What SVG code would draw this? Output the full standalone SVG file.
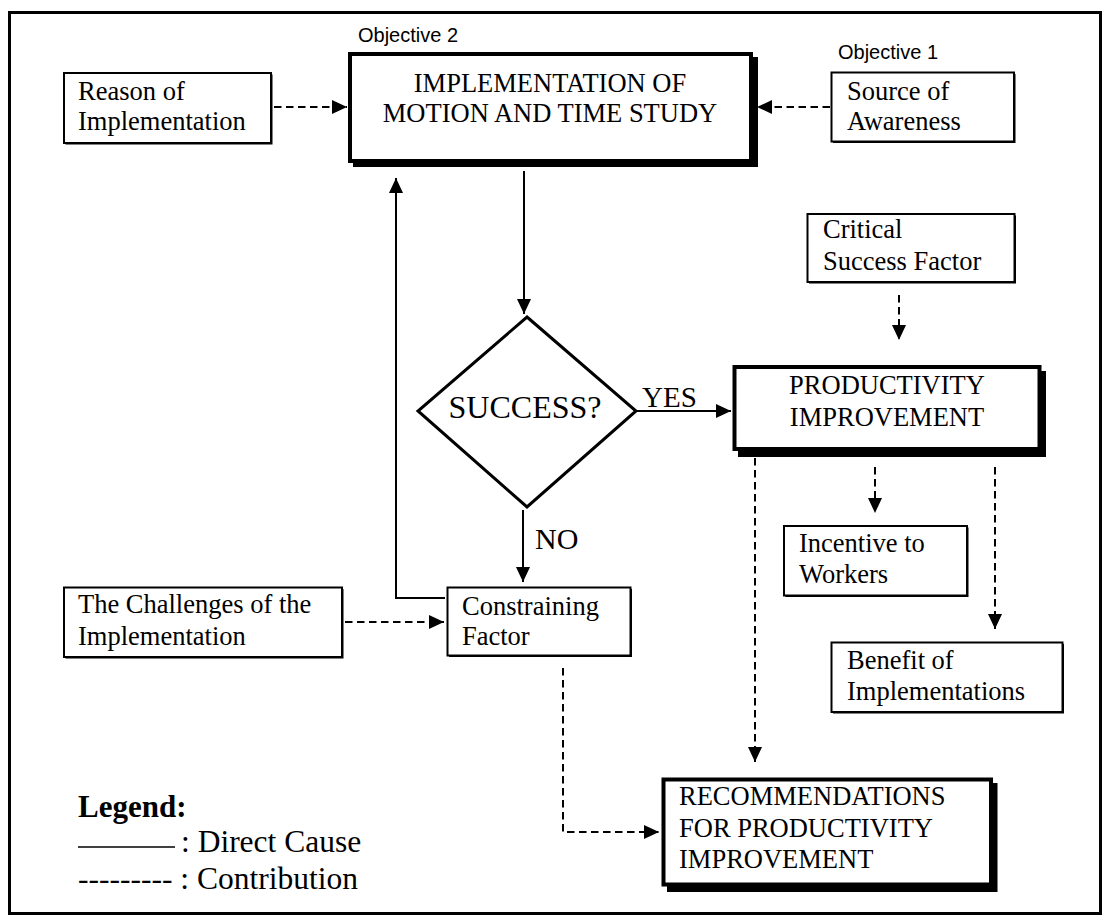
<svg xmlns="http://www.w3.org/2000/svg" width="1109" height="923" viewBox="0 0 1109 923">
<style>
  .t { font-family: "Liberation Serif", "Times New Roman", serif; font-size: 26.5px; fill: #000; }
  .c { text-anchor: middle; }
  .obj { font-family: "Liberation Sans", Arial, sans-serif; font-size: 20px; fill: #000; }
  .box { fill: #fff; stroke: #000; stroke-width: 2; }
  .sh { fill: #000; }
  .tbox { fill: #fff; stroke: #000; stroke-width: 4; }
  .solid { fill: none; stroke: #000; stroke-width: 2; }
  .dash { fill: none; stroke: #000; stroke-width: 2; stroke-dasharray: 7.5 4.5; }
  .arr { marker-end: url(#ah); }
  .lg { font-size: 31.5px; }
</style>
<defs>
  <marker id="ah" markerUnits="userSpaceOnUse" markerWidth="15" markerHeight="14" refX="15" refY="7" orient="auto">
    <path d="M0,0 L15,7 L0,14 Z" fill="#000" stroke="none"/>
  </marker>
</defs>
<rect x="0" y="0" width="1109" height="923" fill="#fff"/>
<rect id="frame" x="9.5" y="12.5" width="1091" height="901" fill="none" stroke="#000" stroke-width="3"/>

<g id="connectors">
  <path class="dash arr" d="M274,107 H347"/>
  <path class="dash arr" d="M830,107 H757"/>
  <path class="solid arr" d="M524,171 V314"/>
  <path class="solid arr" d="M636,411 H731"/>
  <path class="solid arr" d="M523,510 V582"/>
  <path class="solid arr" d="M445,598 H396 V178"/>
  <path class="dash arr" d="M345,622 H444"/>
  <path class="dash arr" d="M899,295 V340"/>
  <path class="dash arr" d="M755,458 V762"/>
  <path class="dash arr" d="M875,467 V513"/>
  <path class="dash arr" d="M995,467 V629"/>
  <path class="dash arr" d="M563,668 V832 H659"/>
</g>

<g id="objective2"><text class="obj" x="358" y="42">Objective 2</text></g>
<g id="objective1"><text class="obj" x="838" y="59">Objective 1</text></g>

<g id="implementation">
  <rect class="sh" x="353" y="57" width="405" height="110"/>
  <rect class="tbox" x="350" y="54" width="401" height="107"/>
  <text class="t c" x="550" y="92">IMPLEMENTATION OF</text>
  <text class="t c" x="550" y="122">MOTION AND TIME STUDY</text>
</g>

<g id="reason">
  <rect class="sh" x="65.5" y="74.5" width="207" height="70"/>
  <rect class="box" x="64" y="73" width="207" height="70"/>
  <text class="t" x="78" y="100">Reason of</text>
  <text class="t" x="78" y="130">Implementation</text>
</g>

<g id="source">
  <rect class="sh" x="833" y="74" width="182.5" height="69"/>
  <rect class="box" x="831.5" y="72.5" width="182.5" height="69"/>
  <text class="t" x="847" y="100">Source of</text>
  <text class="t" x="847" y="130">Awareness</text>
</g>

<g id="critical">
  <rect class="sh" x="809" y="215.5" width="207" height="68"/>
  <rect class="box" x="807.5" y="214" width="207" height="68"/>
  <text class="t" x="823" y="238">Critical</text>
  <text class="t" x="823" y="270">Success Factor</text>
</g>

<g id="success">
  <polygon points="527,317 636,411 527,507 418,411" fill="#fff" stroke="#000" stroke-width="3"/>
  <text class="t c" x="525" y="418" style="font-size:32px">SUCCESS?</text>
</g>
<g id="yes"><text class="t" x="642" y="407" style="font-size:29px">YES</text></g>
<g id="no"><text class="t" x="535" y="549" style="font-size:30px">NO</text></g>

<g id="productivity">
  <rect class="sh" x="738" y="371" width="308" height="86"/>
  <rect class="tbox" x="734.5" y="367" width="305" height="82"/>
  <text class="t c" x="887" y="394">PRODUCTIVITY</text>
  <text class="t c" x="887" y="426">IMPROVEMENT</text>
</g>

<g id="incentive">
  <rect class="sh" x="785.5" y="527.5" width="183" height="69.5"/>
  <rect class="box" x="784" y="526" width="183" height="69.5"/>
  <text class="t" x="799" y="552">Incentive to</text>
  <text class="t" x="799" y="583">Workers</text>
</g>

<g id="benefit">
  <rect class="sh" x="833" y="644" width="231" height="69.5"/>
  <rect class="box" x="831.5" y="642.5" width="231" height="69.5"/>
  <text class="t" x="847" y="669">Benefit of</text>
  <text class="t" x="847" y="700">Implementations</text>
</g>

<g id="challenges">
  <rect class="sh" x="65.5" y="589" width="278" height="69.5"/>
  <rect class="box" x="64" y="587.5" width="278" height="69.5"/>
  <text class="t" x="78" y="613">The Challenges of the</text>
  <text class="t" x="78" y="645">Implementation</text>
</g>

<g id="constraining">
  <rect class="sh" x="449" y="589" width="183" height="68"/>
  <rect class="box" x="447.5" y="587.5" width="183" height="68"/>
  <text class="t" x="462" y="615">Constraining</text>
  <text class="t" x="462" y="645">Factor</text>
</g>

<g id="recommendations">
  <rect class="sh" x="667" y="783" width="330.5" height="109"/>
  <rect class="tbox" x="663.5" y="779.5" width="327.5" height="105"/>
  <text class="t" x="679" y="805">RECOMMENDATIONS</text>
  <text class="t" x="679" y="837">FOR PRODUCTIVITY</text>
  <text class="t" x="679" y="868">IMPROVEMENT</text>
</g>

<g id="legend">
  <text class="t" x="78" y="817" style="font-size:31px;font-weight:bold">Legend:</text>
  <line x1="78" y1="847" x2="175" y2="847" stroke="#000" stroke-width="1.5"/>
  <text class="t lg" x="181" y="852">: Direct Cause</text>
  <text class="t lg" x="78" y="889">--------- : Contribution</text>
</g>
</svg>
